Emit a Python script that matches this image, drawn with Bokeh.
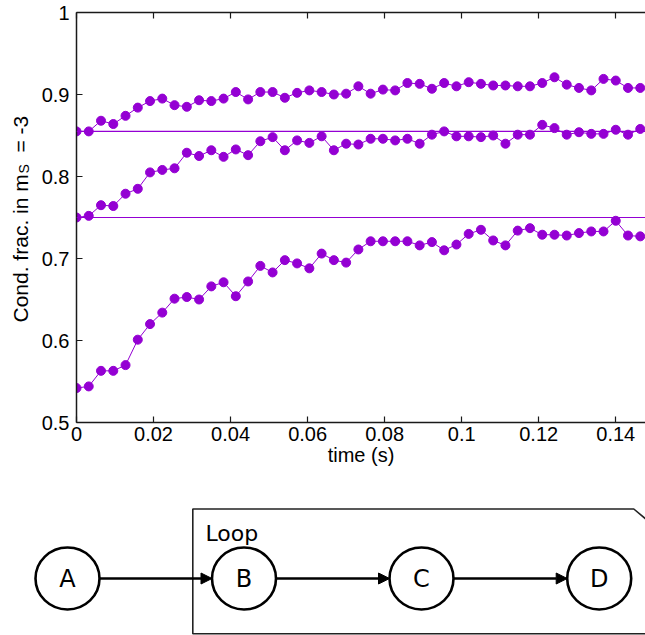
from math import pi

from bokeh.plotting import figure
from bokeh.models import (Range1d, FixedTicker, NumeralTickFormatter, LinearAxis,
                          Span, Arrow, NormalHead, ColumnDataSource,
                          CustomJSTickFormatter)
from bokeh.layouts import column, row
from bokeh.core.properties import value
from bokeh.embed import file_html
from bokeh.resources import INLINE

# ---------------- data ----------------
time_s = [0, 0.00318, 0.00636, 0.00955, 0.01273, 0.01591, 0.01909, 0.02227,
          0.02545, 0.02864, 0.03182, 0.035, 0.03818, 0.04136, 0.04455, 0.04773,
          0.05091, 0.05409, 0.05727, 0.06045, 0.06364, 0.06682, 0.07, 0.07318,
          0.07636, 0.07955, 0.08273, 0.08591, 0.08909, 0.09227, 0.09545, 0.09864,
          0.10182, 0.105, 0.10818, 0.11136, 0.11455, 0.11773, 0.12091, 0.12409,
          0.12727, 0.13045, 0.13364, 0.13682, 0.14, 0.14318, 0.14636]

frac_high = [0.855, 0.855, 0.868, 0.864, 0.874, 0.884, 0.892, 0.895, 0.887, 0.885,
             0.893, 0.892, 0.895, 0.903, 0.894, 0.903, 0.903, 0.896, 0.902, 0.905,
             0.903, 0.900, 0.901, 0.910, 0.901, 0.906, 0.905, 0.914, 0.913, 0.907,
             0.914, 0.910, 0.915, 0.913, 0.911, 0.911, 0.910, 0.910, 0.914, 0.921,
             0.912, 0.908, 0.905, 0.919, 0.917, 0.908, 0.908]

frac_mid = [0.750, 0.752, 0.765, 0.764, 0.779, 0.785, 0.805, 0.808, 0.810, 0.829,
            0.825, 0.832, 0.824, 0.833, 0.826, 0.843, 0.848, 0.832, 0.844, 0.841,
            0.849, 0.832, 0.840, 0.839, 0.846, 0.846, 0.844, 0.846, 0.840, 0.851,
            0.855, 0.849, 0.849, 0.848, 0.850, 0.840, 0.851, 0.851, 0.863, 0.859,
            0.851, 0.854, 0.852, 0.852, 0.857, 0.851, 0.858]

frac_low = [0.542, 0.544, 0.563, 0.563, 0.570, 0.601, 0.620, 0.634, 0.651, 0.653,
            0.650, 0.666, 0.671, 0.654, 0.672, 0.691, 0.683, 0.698, 0.694, 0.688,
            0.706, 0.698, 0.695, 0.711, 0.721, 0.721, 0.721, 0.721, 0.716, 0.720,
            0.710, 0.717, 0.730, 0.735, 0.722, 0.716, 0.734, 0.737, 0.729, 0.729,
            0.728, 0.731, 0.733, 0.733, 0.746, 0.728, 0.727]

reference_levels = [0.855, 0.75]

x_ticks = [0, 0.02, 0.04, 0.06, 0.08, 0.1, 0.12, 0.14]
y_ticks = [0.5, 0.6, 0.7, 0.8, 0.9, 1.0]

# y-axis title pieces: main text, subscript, tail
y_title_parts = ["Cond. frac. in m", "S", "= -3"]

# flow diagram
node_names = ["A", "B", "C", "D"]
node_x = [67, 243.5, 421, 598.7]
node_y = [578, 578, 578, 578]

PURPLE = "#9400d3"
AXIS = "#1a1a1a"
FONT = "Liberation Sans"
DIAG_FONT = "DejaVu Sans"
PAGE_H = 480  # height of the upper (plot) row


def no_frame_align(fig):
    try:
        fig.frame_align = False
    except AttributeError:
        pass


# ---------------- y-axis title strip (pixel coordinates, y up) ----------------
LAB_W = 36
lab = figure(width=LAB_W, height=PAGE_H, output_backend="svg", toolbar_location=None,
             x_range=Range1d(0, LAB_W), y_range=Range1d(0, PAGE_H),
             x_axis_location=None, y_axis_location=None,
             min_border_left=0, min_border_right=0, min_border_top=0,
             min_border_bottom=0)
lab.outline_line_color = None
lab.grid.visible = False
lab.text(x=[20, 23, 20], y=[PAGE_H - 322, PAGE_H - 173, PAGE_H - 152],
         text=y_title_parts, angle=pi / 2, text_font=value(FONT),
         text_font_size=["21px", "14px", "21px"],
         text_align="left", text_baseline="alphabetic", text_color="black")

# ---------------- time-series plot ----------------
p = figure(width=645 - LAB_W, height=PAGE_H, output_backend="svg",
           toolbar_location=None,
           x_range=Range1d(0, 0.14772), y_range=Range1d(0.5, 1.0),
           min_border_left=76 - LAB_W, min_border_top=12, min_border_right=0,
           min_border_bottom=58)
p.outline_line_color = None
p.grid.visible = False

for ax in (p.xaxis, p.yaxis):
    ax.axis_line_color = AXIS
    ax.axis_line_width = 1.5
    ax.major_tick_line_color = AXIS
    ax.major_tick_line_width = 1.2
    ax.major_tick_in = 6
    ax.major_tick_out = 0
    ax.minor_tick_line_color = None
    ax.major_label_text_font = FONT
    ax.major_label_text_font_size = "20px"
    ax.major_label_text_color = "black"
    ax.axis_label_text_font = FONT
    ax.axis_label_text_font_size = "20px"
    ax.axis_label_text_font_style = "normal"
    ax.axis_label_text_color = "black"

xa = p.below[0]
xa.ticker = FixedTicker(ticks=x_ticks)
xa.formatter = NumeralTickFormatter(format="0.[00]")
xa.major_label_standoff = 4
xa.axis_label = "time (s)"
xa.axis_label_standoff = 0

ya = p.left[0]
ya.ticker = FixedTicker(ticks=y_ticks)
ya.formatter = NumeralTickFormatter(format="0.[0]")
ya.major_label_standoff = 7

# mirrored top axis: inward ticks, blank labels
top = LinearAxis(ticker=FixedTicker(ticks=x_ticks),
                 formatter=CustomJSTickFormatter(code="return ''"),
                 major_label_text_font_size="1px",
                 major_label_standoff=0, axis_line_color=AXIS, axis_line_width=1.5,
                 major_tick_line_color=AXIS, major_tick_line_width=1.2,
                 major_tick_in=6, major_tick_out=0, minor_tick_line_color=None)
p.add_layout(top, "above")

for lvl in reference_levels:
    p.add_layout(Span(location=lvl, dimension="width", line_color=PURPLE,
                      line_width=1.2))

for series in (frac_high, frac_mid, frac_low):
    src = ColumnDataSource(dict(t=time_s, f=series))
    p.line("t", "f", source=src, line_color=PURPLE, line_width=1)
    p.scatter("t", "f", source=src, size=9, fill_color=PURPLE, line_color=PURPLE)

# ---------------- flow diagram ----------------
d = figure(width=645, height=155, output_backend="svg", toolbar_location=None,
           x_range=Range1d(0, 645), y_range=Range1d(635, 480),
           x_axis_location=None, y_axis_location=None,
           min_border_left=0, min_border_right=0, min_border_top=0,
           min_border_bottom=0)
d.outline_line_color = None
d.grid.visible = False

# loop frame with clipped corner
d.line(x=[665, 633.3, 192.3, 192.3, 665], y=[535, 508.5, 508.5, 633.3, 633.3],
       line_color="#222222", line_width=1.6)
d.text(x=[205], y=[532.5], text=["Loop"], text_font=value(DIAG_FONT),
       text_font_size="22px", text_align="left", text_baseline="alphabetic",
       text_color="black")

for i in range(len(node_x) - 1):
    d.add_layout(Arrow(end=NormalHead(size=11, fill_color="black", line_color="black",
                                      line_width=1),
                       x_start=node_x[i] + 32, y_start=node_y[i],
                       x_end=node_x[i + 1] - 32, y_end=node_y[i + 1],
                       line_color="black", line_width=2.6))

d.ellipse(x=node_x, y=node_y, width=64, height=62, fill_color="white",
          line_color="black", line_width=2.6)
d.text(x=node_x, y=node_y, text=node_names, text_font=value(DIAG_FONT),
       text_font_size="24px", text_align="center", text_baseline="middle",
       text_color="black")

for fig in (lab, p, d):
    no_frame_align(fig)

layout = column(row(lab, p, spacing=0), d, spacing=0)
open("out.html", "w").write(file_html(layout, INLINE))
